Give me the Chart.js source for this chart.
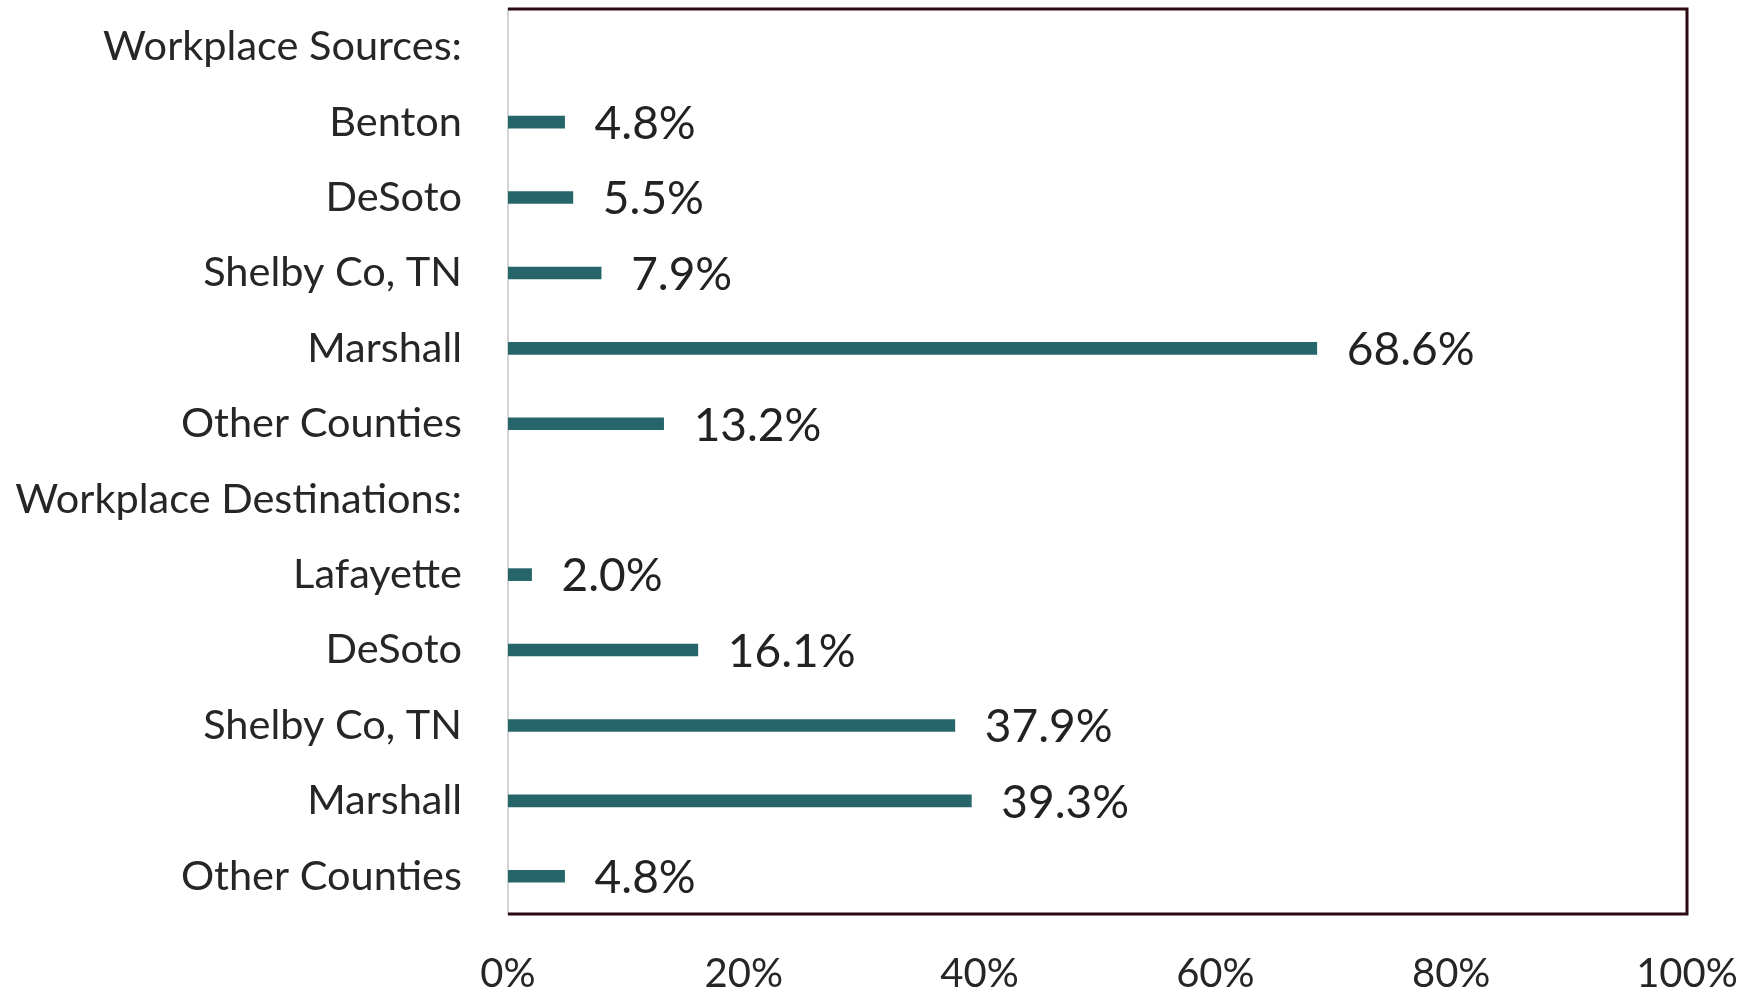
<!DOCTYPE html>
<html>
<head>
<meta charset="utf-8">
<script src="https://cdn.jsdelivr.net/npm/chart.js@4"></script>
<style>
  html, body { margin: 0; padding: 0; background: #fff; }
  #wrap { width: 1763px; height: 995px; }
</style>
</head>
<body>
<div id="wrap"><canvas id="commuteChart" width="1763" height="995"></canvas></div>
<script>
const categories = ['Workplace Sources:', 'Benton', 'DeSoto', 'Shelby Co, TN', 'Marshall', 'Other Counties',
    'Workplace Destinations:', 'Lafayette', 'DeSoto', 'Shelby Co, TN', 'Marshall', 'Other Counties'];
const shares = [null, 4.8, 5.5, 7.9, 68.6, 13.2, null, 2.0, 16.1, 37.9, 39.3, 4.8];
const tickValues = [0, 20, 40, 60, 80, 100];

const barColor = '#26666b';

// value labels to the right of each bar
const valueLabels = {
    id: 'valueLabels',
    afterDatasetsDraw(chart) {
        const ctx = chart.ctx;
        const meta = chart.getDatasetMeta(0);
        ctx.save();
        ctx.font = '46px Lato';
        ctx.fillStyle = '#222';
        ctx.textAlign = 'left';
        ctx.textBaseline = 'middle';
        meta.data.forEach((bar, i) => {
            const v = shares[i];
            if (v == null) return;
            ctx.fillText(v.toFixed(1) + '%', bar.x + 30, bar.y + 2);
        });
        ctx.restore();
    }
};

// dark frame on top / right / bottom of the plot
const frame = {
    id: 'frame',
    afterDraw(chart) {
        const a = chart.chartArea;
        const ctx = chart.ctx;
        ctx.save();
        ctx.strokeStyle = '#2a0a10';
        ctx.lineWidth = 3;
        ctx.beginPath();
        ctx.moveTo(a.left, a.top);
        ctx.lineTo(a.right, a.top);
        ctx.lineTo(a.right, a.bottom);
        ctx.lineTo(a.left, a.bottom);
        ctx.stroke();
        ctx.restore();
    }
};

Chart.defaults.font.family = 'Lato, "Open Sans", sans-serif';
Chart.defaults.color = '#262626';

new Chart(document.getElementById('commuteChart'), {
    type: 'bar',
    data: {
        labels: categories,
        datasets: [{
            data: shares,
            backgroundColor: barColor,
            barThickness: 12
        }]
    },
    options: {
        indexAxis: 'y',
        responsive: false,
        animation: false,
        layout: { padding: { top: 9, right: 76, bottom: 0, left: 0 } },
        plugins: {
            legend: { display: false },
            tooltip: { enabled: false }
        },
        scales: {
            x: {
                min: 0,
                max: 100,
                afterBuildTicks: scale => {
                    scale.ticks = tickValues.map(v => ({ value: v }));
                },
                afterFit: scale => {
                    scale.height = 81;
                    scale.paddingLeft = 0;
                    scale.paddingRight = 0;
                },
                grid: { display: false, drawTicks: false },
                border: { display: false },
                ticks: {
                    padding: 36,
                    font: { size: 40 },
                    color: '#262626',
                    callback: v => v + '%'
                }
            },
            y: {
                afterFit: scale => {
                    scale.width = 508;
                    scale.paddingTop = 0;
                    scale.paddingBottom = 0;
                },
                grid: { display: false, drawTicks: false },
                border: { display: true, color: '#d4d4d4', width: 2 },
                ticks: {
                    padding: 46,
                    autoSkip: false,
                    font: { size: 41.5 },
                    color: '#262626'
                }
            }
        }
    },
    plugins: [valueLabels, frame]
});
</script>
</body>
</html>
